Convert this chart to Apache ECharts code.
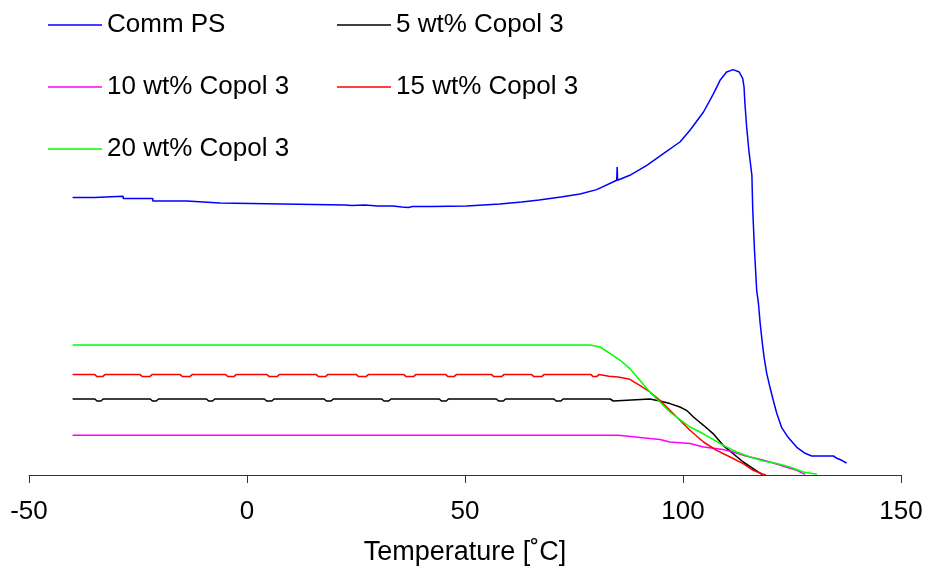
<!DOCTYPE html>
<html>
<head>
<meta charset="utf-8">
<title>Temperature sweep</title>
<script src="https://cdn.jsdelivr.net/npm/echarts@6/dist/echarts.min.js"></script>
<style>
  html, body { margin: 0; padding: 0; background: #fff; }
  #chart { width: 930px; height: 575px; }
</style>
</head>
<body>
<div id="chart"></div>
<script>
// Temperature axis ticks
var tempTicks = [-50, 0, 50, 100, 150];

// Comm PS
var psTemp = [-40, -35, -35, -28.4, -28.4, -21.6, -21.6, -13.8, -13.8, -6.2, -6.2, 22.5, 24, 27, 30, 33.5, 35.5, 37, 38, 42.4, 42.4, 50.4, 50.4,
  58, 63, 67, 72, 76.4, 80.2, 84.8, 84.9, 85.0, 87.8, 91.7, 95.5, 99.3, 101.6, 104.7, 107, 108.5, 110, 111.5, 112.9, 113.7, 114,
  114.2, 114.6, 115.1, 115.8, 116, 116.4, 116.9, 117.3, 117.7, 118.2, 118.6, 119.2, 119.95, 120.7, 121.5, 122.6, 124.1, 126.1,
  128, 129.5, 134.5, 135.3, 136.4, 137.5];
var psSignal = [2.775, 2.775, 2.787, 2.787, 2.764, 2.764, 2.74, 2.74, 2.72, 2.72, 2.70, 2.70, 2.695, 2.70, 2.69, 2.69, 2.68, 2.675, 2.685, 2.685, 2.69, 2.69, 2.705,
  2.71, 2.73, 2.75, 2.78, 2.81, 2.854, 2.947, 3.08, 2.947, 2.997, 3.097, 3.214, 3.33, 3.447, 3.63, 3.814, 3.947, 4.03, 4.054, 4.03, 3.964, 3.88,
  3.717, 3.48, 3.247, 2.997, 2.647, 2.247, 1.847, 1.717, 1.517, 1.317, 1.177, 1.017, 0.877, 0.747, 0.617, 0.477, 0.377, 0.277,
  0.217, 0.19, 0.19, 0.167, 0.147, 0.12];

// 5 wt% Copol 3
var c5Temp = [-40, -34.9, -34.4, -33.5, -33.0, -22.2, -21.7, -20.8, -20.3, -9.3, -8.8, -7.9, -7.4, 4.0, 4.5, 5.7, 6.2, 17.7, 18.2, 19.3, 19.8,
  30.9, 31.4, 32.5, 33.0, 44.1, 44.6, 45.7, 46.2, 57.2, 57.7, 58.8, 59.3, 70.4, 70.9, 72.0, 72.5, 83.3, 83.7, 84.0, 84.4,
  92.4, 94.7, 97, 99.3, 100.8, 102.4, 104.7, 106.9, 109.2, 111.5, 113.8, 116.1, 118.1];
var c5Signal = [0.76, 0.76, 0.74, 0.74, 0.76, 0.76, 0.74, 0.74, 0.76, 0.76, 0.74, 0.74, 0.76, 0.76, 0.74, 0.74, 0.76, 0.76, 0.74, 0.74, 0.76,
  0.76, 0.74, 0.74, 0.76, 0.76, 0.74, 0.74, 0.76, 0.76, 0.74, 0.74, 0.76, 0.76, 0.74, 0.74, 0.76, 0.76, 0.74, 0.74, 0.76,
  0.76, 0.74, 0.714, 0.68, 0.647, 0.58, 0.497, 0.414, 0.297, 0.214, 0.13, 0.064, 0.007];

// 10 wt% Copol 3
var c10Temp = [-40, 85.2, 85.6, 92.4, 94.7, 97, 101.6, 104.7, 109.2, 111.5, 114.6, 116.9, 120, 123, 126.1, 127.6, 128];
var c10Signal = [0.397, 0.397, 0.38, 0.364, 0.354, 0.33, 0.314, 0.28, 0.254, 0.23, 0.187, 0.164, 0.13, 0.087, 0.047, 0.014, 0.007];

// 15 wt% Copol 3
var c15Temp = [-40, -34.9, -34.4, -33.1, -32.6, -24.5, -24.0, -22.3, -21.8, -15.3, -14.8, -13.1, -12.6, -4.9, -4.4, -3.0, -2.5,
  4.6, 5.1, 6.9, 7.4, 15.9, 16.4, 18.0, 18.5, 25.1, 25.6, 27.3, 27.8, 36.0, 36.5, 38.2, 38.7, 45.6, 46.1, 47.5, 48.0,
  56.1, 56.6, 58.4, 58.9, 65.3, 65.8, 67.6, 68.1, 78.9, 79.4, 80.2, 80.7,
  83, 85.1, 87.8, 90.1, 92.4, 94.7, 97, 99.3, 101.6, 104.7, 107.7, 110.8, 113.8, 116.1, 118.4, 119];
var c15Signal = [1.004, 1.004, 0.984, 0.984, 1.004, 1.004, 0.984, 0.984, 1.004, 1.004, 0.984, 0.984, 1.004, 1.004, 0.984, 0.984, 1.004,
  1.004, 0.984, 0.984, 1.004, 1.004, 0.984, 0.984, 1.004, 1.004, 0.984, 0.984, 1.004, 1.004, 0.984, 0.984, 1.004, 1.004, 0.984, 0.984, 1.004,
  1.004, 0.984, 0.984, 1.004, 1.004, 0.984, 0.984, 1.004, 1.004, 0.984, 0.984, 1.004,
  0.987, 0.98, 0.957, 0.897, 0.83, 0.747, 0.647, 0.547, 0.447, 0.33, 0.247, 0.18, 0.114, 0.047, 0.007, 0.002];

// 20 wt% Copol 3
var c20Temp = [-40, 78.7, 81, 83.3, 85.6, 87.8, 90.1, 92.4, 94.7, 97, 99.3, 101.6, 103.9, 106.2, 109.2, 112.3, 115.4, 118.4, 121.5, 124.5, 127.6, 130.7];
var c20Signal = [1.30, 1.30, 1.28, 1.214, 1.147, 1.064, 0.947, 0.83, 0.73, 0.63, 0.554, 0.48, 0.43, 0.374, 0.297, 0.23, 0.18, 0.14, 0.114, 0.08, 0.03, 0.007];

function pairs(xs, ys) {
  return xs.map(function (x, i) { return [x, ys[i]]; });
}

var FONT = '"Liberation Sans", Arial, sans-serif';

var seriesDefs = [
  { name: 'Comm PS', color: '#0000ff', temp: psTemp, sig: psSignal },
  { name: '5 wt% Copol 3', color: '#000000', temp: c5Temp, sig: c5Signal },
  { name: '10 wt% Copol 3', color: '#ff00ff', temp: c10Temp, sig: c10Signal },
  { name: '15 wt% Copol 3', color: '#ff0000', temp: c15Temp, sig: c15Signal },
  { name: '20 wt% Copol 3', color: '#00ff00', temp: c20Temp, sig: c20Signal }
];

var legendBase = {
  orient: 'vertical',
  top: 7,
  icon: 'rect',
  itemWidth: 54,
  itemHeight: 1.5,
  itemGap: 36,
  selectedMode: false,
  textStyle: { fontFamily: FONT, fontSize: 26, color: '#000' }
};

var chart = echarts.init(document.getElementById('chart'), null, { renderer: 'canvas' });
chart.setOption({
  animation: false,
  backgroundColor: '#fff',
  grid: { left: 29, right: 29, top: 60, bottom: 100, containLabel: false },
  legend: [
    Object.assign({}, legendBase, { left: 43, data: ['Comm PS', '10 wt% Copol 3', '20 wt% Copol 3'] }),
    Object.assign({}, legendBase, { left: 332, data: ['5 wt% Copol 3', '15 wt% Copol 3'] })
  ],
  xAxis: {
    type: 'value',
    min: tempTicks[0],
    max: tempTicks[tempTicks.length - 1],
    interval: 50,
    name: 'Temperature [˚C]',
    nameLocation: 'middle',
    nameGap: 64,
    nameTextStyle: { fontFamily: FONT, fontSize: 27, color: '#000' },
    axisLine: { lineStyle: { color: '#333', width: 1 } },
    axisTick: { show: true, inside: false, length: 8, lineStyle: { color: '#333' } },
    axisLabel: { fontFamily: FONT, fontSize: 26, color: '#000', margin: 24 },
    splitLine: { show: false }
  },
  yAxis: {
    type: 'value',
    min: 0,
    max: 4.15,
    show: false
  },
  series: seriesDefs.map(function (d) {
    return {
      name: d.name,
      type: 'line',
      data: pairs(d.temp, d.sig),
      showSymbol: false,
      symbol: 'none',
      color: d.color,
      lineStyle: { color: d.color, width: 1.5 },
      emphasis: { disabled: true }
    };
  })
});
</script>
</body>
</html>
